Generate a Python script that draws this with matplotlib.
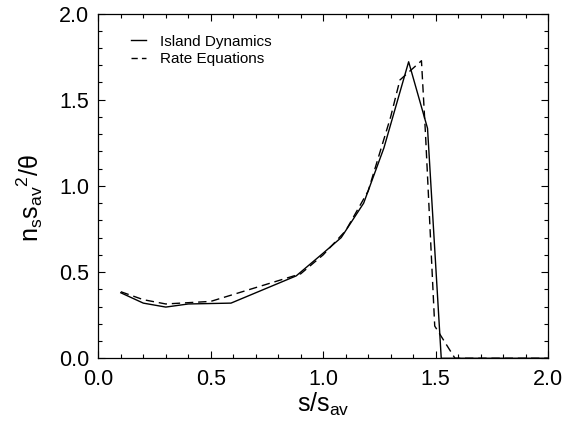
import matplotlib
matplotlib.use("Agg")
import matplotlib.pyplot as plt
from matplotlib.lines import Line2D
from matplotlib.ticker import MultipleLocator, FormatStrFormatter

plt.rcParams['font.family'] = ['Liberation Sans', 'DejaVu Sans']
plt.rcParams['mathtext.fontset'] = 'custom'
plt.rcParams['mathtext.rm'] = 'Liberation Sans'
plt.rcParams['mathtext.it'] = 'Liberation Sans'

# Island Dynamics (solid)
island_x = [0.10, 0.20, 0.30, 0.40, 0.59, 0.88, 1.00, 1.08, 1.18, 1.27, 1.38, 1.464, 1.525, 1.60, 2.00]
island_y = [0.38, 0.32, 0.297, 0.315, 0.32, 0.478, 0.61, 0.70, 0.90, 1.22, 1.72, 1.334, 0.0, 0.0, 0.0]

# Rate Equations (dashed)
rate_x = [0.10, 0.20, 0.30, 0.50, 0.70, 0.80, 0.90, 1.00, 1.10, 1.20, 1.30, 1.341, 1.437, 1.455, 1.496, 1.586, 2.00]
rate_y = [0.386, 0.34, 0.315, 0.33, 0.41, 0.45, 0.49, 0.60, 0.74, 0.97, 1.40, 1.614, 1.726, 1.30, 0.187, 0.0, 0.0]

labels = ['Island Dynamics', 'Rate Equations']

fig = plt.figure(figsize=(5.70, 4.22), dpi=100)
ax = fig.add_axes([0.1725, 0.151, 0.789, 0.817])

ax.plot(island_x, island_y, color='black', lw=1.0)
ax.plot(rate_x, rate_y, color='black', lw=1.0, ls=(0, (6, 3.5)))

ax.set_xlim(0, 2.0)
ax.set_ylim(0, 2.0)
ax.xaxis.set_major_locator(MultipleLocator(0.5))
ax.yaxis.set_major_locator(MultipleLocator(0.5))
ax.xaxis.set_minor_locator(MultipleLocator(0.1))
ax.yaxis.set_minor_locator(MultipleLocator(0.1))
ax.xaxis.set_major_formatter(FormatStrFormatter('%.1f'))
ax.yaxis.set_major_formatter(FormatStrFormatter('%.1f'))
ax.tick_params(which='both', direction='in', top=True, right=True, labelsize=15.5, width=0.8)
ax.tick_params(which='major', length=5)
ax.tick_params(which='minor', length=3)
ax.tick_params(axis='x', pad=7.5)
ax.tick_params(axis='y', pad=6.5)
for s in ax.spines.values():
    s.set_linewidth(0.9)

ax.set_xlabel(r'$\mathregular{s/s_{av}}$', fontsize=18, labelpad=1)
ax.set_ylabel(r'$\mathregular{n_s s_{av}{}^{2}/\theta}$', fontsize=18)
ax.yaxis.set_label_coords(-0.118, 0.465)

# shorter dashes for the small legend handle
handles = [Line2D([], [], color='black', lw=1.0),
           Line2D([], [], color='black', lw=1.0, ls=(0, (4.5, 3)))]
ax.legend(handles, labels, loc='upper left', frameon=False, fontsize=11, handlelength=1.0,
          handletextpad=0.9, borderaxespad=0, borderpad=0, labelspacing=0.25,
          bbox_to_anchor=(0.072, 0.939))

fig.savefig('out.png', dpi=100)
